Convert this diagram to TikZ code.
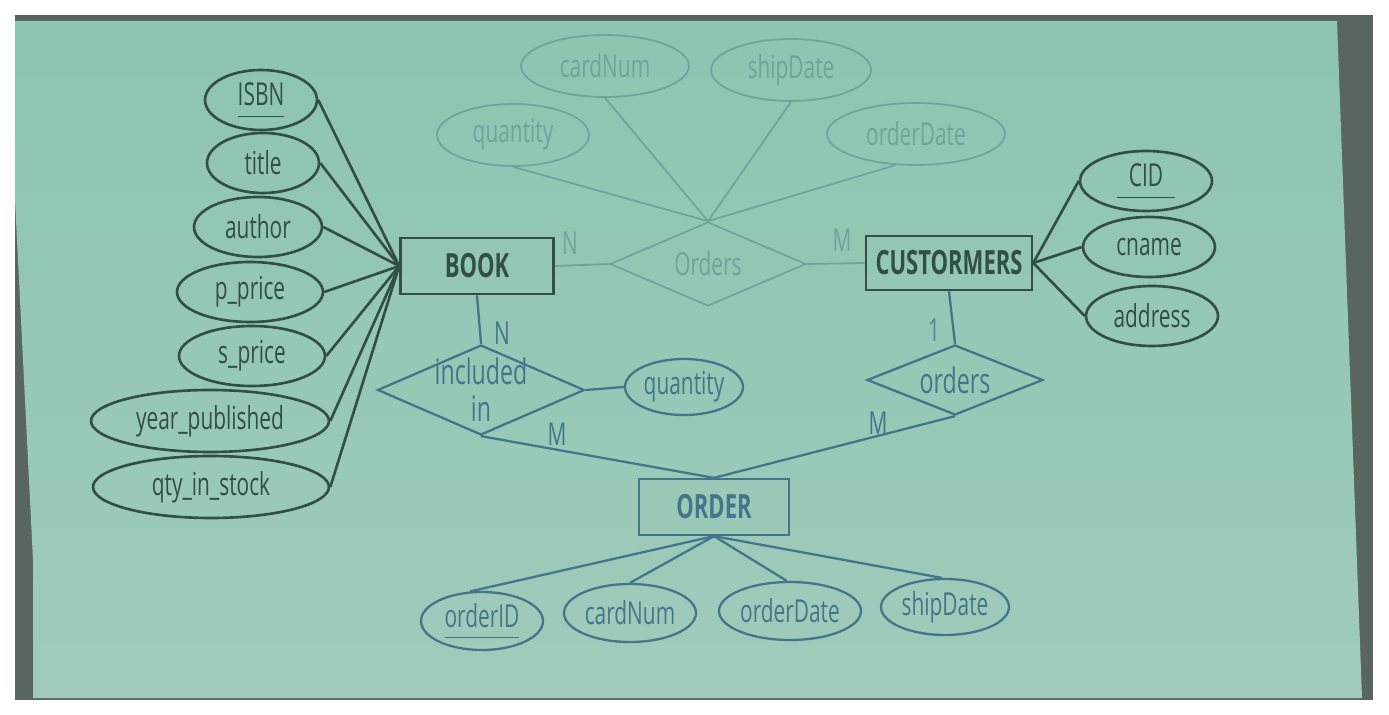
\documentclass[tikz,border=0pt]{standalone}
\usepackage{fontspec}
\setmainfont{Open Sans}[FakeStretch=0.66]
\usetikzlibrary{shapes.geometric,calc}
\definecolor{screentop}{HTML}{8CC5B1}
\definecolor{screenbot}{HTML}{A0CBBB}
\definecolor{frame}{HTML}{59655F}
\definecolor{darkink}{HTML}{324E45}
\definecolor{blueink}{HTML}{45758A}
\definecolor{fadeink}{HTML}{70A39A}
\definecolor{oneink}{HTML}{5A8590}
\newcommand{\keyattr}[1]{\underline{#1\vphantom{p}}}

\begin{document}
\begin{tikzpicture}[
    x=0.02cm, y=-0.02cm,
    every node/.style={font=\fontsize{18}{17}\selectfont},
    attr/.style={ellipse, draw=#1, text=#1, inner sep=0pt},
    entity/.style={rectangle, draw=#1, text=#1, inner sep=0pt,
                   font=\fontsize{19}{20}\selectfont\bfseries},
    rel/.style={diamond, draw=#1, text=#1, inner sep=-14pt, align=center,
                font=\fontsize{20}{17}\selectfont},
    card/.style={text=#1, inner sep=0pt},
    darkline/.style={draw=darkink, line width=1.5pt},
    blueline/.style={draw=blueink, line width=1.3pt},
    fadeline/.style={draw=fadeink, line width=1pt},
]
\useasboundingbox (0,0) rectangle (1389,715);

% Screen
\fill[white] (0,0) rectangle (1389,715);
\fill[frame] (15,15) rectangle (1373,700);
\shade[top color=screentop, bottom color=screenbot]
  (15,21) -- (1337,21) -- (1362,698) -- (33,698) -- (33,560) -- (15,200) -- cycle;

% Entities
\node[entity=darkink, darkline, minimum width=3.06cm, minimum height=1.12cm] (book) at (477,266) {BOOK};
\node[entity=darkink, darkline, minimum width=3.32cm, minimum height=1.08cm] (customers) at (949,263) {CUSTORMERS};
\node[entity=blueink, blueline, minimum width=3cm, minimum height=1.12cm] (order) at (714,507) {ORDER};

% BOOK attributes
\node[attr=darkink, darkline, minimum width=2.24cm, minimum height=1.2cm] (isbn) at (261,100) {\keyattr{ISBN}};
\node[attr=darkink, darkline, minimum width=2.24cm, minimum height=1.2cm] (title) at (263,163) {title};
\node[attr=darkink, darkline, minimum width=2.56cm, minimum height=1.2cm] (author) at (258,227) {author};
\node[attr=darkink, darkline, minimum width=2.92cm, minimum height=1.2cm] (pprice) at (250,292) {p\_price};
\node[attr=darkink, darkline, minimum width=2.92cm, minimum height=1.2cm] (sprice) at (252,356) {s\_price};
\node[attr=darkink, darkline, minimum width=4.76cm, minimum height=1.24cm] (year) at (210,421) {year\_published};
\node[attr=darkink, darkline, minimum width=4.72cm, minimum height=1.24cm] (qty) at (211,487) {qty\_in\_stock};
\foreach \a in {isbn,title,author,pprice,sprice,year,qty}
  \draw[darkline] (book.west) -- (\a.east);

% CUSTORMERS attributes
\node[attr=darkink, darkline, minimum width=2.64cm, minimum height=1.2cm] (cid) at (1146,181) {\underline{\hspace{7pt}CID\hspace{7pt}\vphantom{g}}};
\node[attr=darkink, darkline, minimum width=2.64cm, minimum height=1.2cm] (cname) at (1149,247) {cname};
\node[attr=darkink, darkline, minimum width=2.64cm, minimum height=1.2cm] (address) at (1152,316) {address};
\foreach \a in {cid,cname,address}
  \draw[darkline] (customers.east) -- (\a.west);

% Orders (faded)
\node[rel=fadeink, fadeline, minimum width=3.92cm, minimum height=1.68cm, font=\fontsize{18}{17}\selectfont] (ordersN) at (708,264) {Orders};
\node[attr=fadeink, fadeline, minimum width=3.36cm, minimum height=1.24cm] (fcard) at (605,66) {cardNum};
\node[attr=fadeink, fadeline, minimum width=3.2cm, minimum height=1.24cm] (fship) at (791,70) {shipDate};
\node[attr=fadeink, fadeline, minimum width=3.04cm, minimum height=1.24cm] (fqty) at (513,135) {quantity};
\node[attr=fadeink, fadeline, minimum width=3.56cm, minimum height=1.24cm] (fdate) at (916,134) {orderDate};
\draw[fadeline] (ordersN.north) -- (fqty.south);
\draw[fadeline] (ordersN.north) -- (fcard.south);
\draw[fadeline] (ordersN.north) -- (fship.south);
\draw[fadeline] (ordersN.north) -- (fdate.237);
\draw[fadeline] (book.east) -- (ordersN.west);
\draw[fadeline] (ordersN.east) -- (customers.west);
\node[card=fadeink] (cardN1) at (570,243) {N};
\node[card=fadeink] (cardM1) at (842,240) {M};

% included in
\node[rel=blueink, blueline, minimum width=4.14cm, minimum height=1.8cm] (incl) at (481,390)
  {included\\[4pt]in};
\node[attr=blueink, blueline, minimum width=2.36cm, minimum height=1.12cm] (iqty) at (684,387) {quantity};
\draw[blueline] (book.south) -- (incl.north);
\draw[blueline] (incl.east) -- (iqty.west);
\draw[blueline] (incl.south) -- (order.north);
\node[card=blueink] (cardN2) at (502,333) {N};
\node[card=blueink] (cardM2) at (557,434) {M};

% orders
\node[rel=blueink, blueline, minimum width=3.52cm, minimum height=1.4cm] (ordersR) at (955,380) {orders};
\draw[blueline] (customers.south) -- (ordersR.north);
\draw[blueline] (ordersR.south) -- (order.north);
\node[card=oneink] (card1) at (934,330) {1};
\node[card=blueink] (cardM3) at (878,423) {M};

% ORDER attributes
\node[attr=blueink, blueline, minimum width=2.44cm, minimum height=1.16cm] (oid) at (482,621) {\keyattr{orderID}};
\node[attr=blueink, blueline, minimum width=2.64cm, minimum height=1.16cm] (ocard) at (630,613) {cardNum};
\node[attr=blueink, blueline, minimum width=2.84cm, minimum height=1.16cm] (odate) at (790,611) {orderDate};
\node[attr=blueink, blueline, minimum width=2.56cm, minimum height=1.12cm] (oship) at (945,607) {shipDate};
\draw[blueline] (order.south) -- (oid.112);
\draw[blueline] (order.south) -- (ocard.north);
\draw[blueline] (order.south) -- (odate.96);
\draw[blueline] (order.south) -- (oship.96);

\end{tikzpicture}
\end{document}
